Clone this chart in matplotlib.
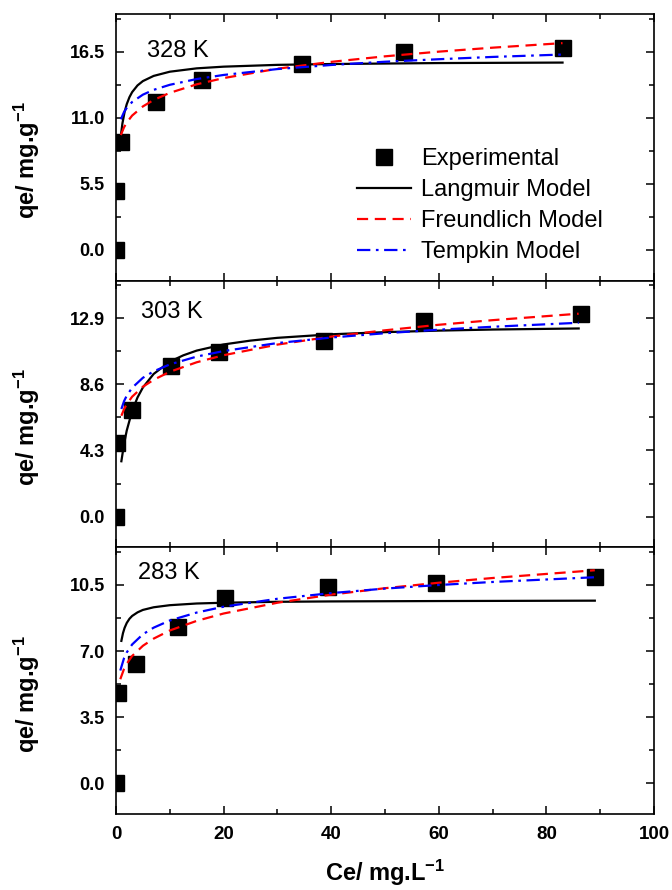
import matplotlib
matplotlib.use("Agg")
import matplotlib.pyplot as plt
from matplotlib.ticker import MultipleLocator, FormatStrFormatter

plt.rcParams['font.family'] = ['Liberation Sans', 'DejaVu Sans']
plt.rcParams['mathtext.fontset'] = 'custom'
plt.rcParams['mathtext.rm'] = 'Liberation Sans'
plt.rcParams['mathtext.bf'] = 'Liberation Sans:bold'
plt.rcParams['mathtext.default'] = 'bf'

temps = ["328 K", "303 K", "283 K"]

# experimental points (Ce, qe)
ce_328 = [0.0, 0.05, 0.9, 7.5, 15.9, 34.6, 53.5, 83.1]
qe_328 = [0.0, 4.9, 9.0, 12.35, 14.15, 15.5, 16.45, 16.8]
ce_303 = [0.0, 0.2, 3.0, 10.2, 19.2, 38.6, 57.2, 86.5]
qe_303 = [0.0, 4.8, 6.95, 9.8, 10.7, 11.4, 12.7, 13.2]
ce_283 = [0.0, 0.4, 3.7, 11.6, 20.2, 39.5, 59.4, 89.0]
qe_283 = [0.0, 4.8, 6.3, 8.3, 9.8, 10.4, 10.6, 10.9]

# model curves
lang_x_328 = [0.9, 1.2, 1.6, 2, 2.5, 3, 4, 5, 7, 10, 15, 20, 30, 40, 60, 83]
lang_y_328 = [9.49, 10.54, 11.48, 12.13, 12.71, 13.13, 13.69, 14.05, 14.48, 14.83,
              15.11, 15.25, 15.40, 15.47, 15.55, 15.59]
fit_x_328 = [0.9, 1.5, 2, 3, 5, 7, 10, 15, 20, 30, 40, 50, 60, 70, 83]
freu_y_328 = [9.56, 10.21, 10.60, 11.18, 11.94, 12.48, 13.07, 13.78, 14.30, 15.08,
              15.65, 16.11, 16.50, 16.83, 17.21]
temp_y_328 = [10.87, 11.48, 11.82, 12.31, 12.92, 13.32, 13.74, 14.22, 14.56, 15.05,
              15.39, 15.66, 15.87, 16.06, 16.26]

lang_x_303 = [1, 1.5, 2, 3, 4, 5, 7, 10, 12.5, 15, 20, 25, 30, 40, 50, 60, 70, 86]
lang_y_303 = [3.60, 4.73, 5.60, 6.87, 7.75, 8.40, 9.28, 10.08, 10.49, 10.80, 11.20,
              11.45, 11.63, 11.86, 12.00, 12.10, 12.17, 12.24]
fit_x_303 = [1, 1.5, 2, 3, 5, 7, 10, 15, 20, 30, 40, 50, 60, 70, 86]
freu_y_303 = [6.56, 6.99, 7.31, 7.80, 8.45, 8.90, 9.42, 10.04, 10.50, 11.19,
              11.71, 12.12, 12.48, 12.78, 13.20]
temp_y_303 = [7.00, 7.51, 7.87, 8.38, 9.03, 9.45, 9.90, 10.41, 10.77, 11.29,
              11.65, 11.93, 12.16, 12.35, 12.61]

lang_x_283 = [1, 1.3, 1.6, 2, 2.5, 3, 4, 5, 7, 10, 15, 20, 30, 40, 60, 89]
lang_y_283 = [7.54, 7.95, 8.23, 8.49, 8.71, 8.86, 9.05, 9.18, 9.32, 9.43,
              9.52, 9.56, 9.61, 9.63, 9.65, 9.67]
fit_x_283 = [0.8, 1.5, 2, 3, 5, 7, 10, 15, 20, 30, 40, 50, 60, 70, 89]
freu_y_283 = [5.51, 6.06, 6.33, 6.74, 7.28, 7.66, 8.09, 8.60, 8.99, 9.56,
              9.99, 10.33, 10.62, 10.87, 11.28]
temp_y_283 = [5.97, 6.63, 6.93, 7.35, 7.89, 8.24, 8.62, 9.04, 9.35, 9.77,
              10.07, 10.31, 10.50, 10.66, 10.91]

# axis ticks
yticks_328 = [0.0, 5.5, 11.0, 16.5]
yticks_303 = [0.0, 4.3, 8.6, 12.9]
yticks_283 = [0.0, 3.5, 7.0, 10.5]
xticks = [0, 20, 40, 60, 80, 100]

panels = [
    (temps[0], ce_328, qe_328, lang_x_328, lang_y_328, fit_x_328, freu_y_328, temp_y_328, yticks_328),
    (temps[1], ce_303, qe_303, lang_x_303, lang_y_303, fit_x_303, freu_y_303, temp_y_303, yticks_303),
    (temps[2], ce_283, qe_283, lang_x_283, lang_y_283, fit_x_283, freu_y_283, temp_y_283, yticks_283),
]
label_x = [0.058, 0.046, 0.040]
label_y = [0.861, 0.881, 0.905]

fig, axes = plt.subplots(3, 1, figsize=(6.72, 8.9), dpi=100, sharex=True)
fig.subplots_adjust(left=0.1726, right=0.9732, top=0.9843, bottom=0.0854, hspace=0)

for i, (ax, p) in enumerate(zip(axes, panels)):
    name, ce, qe, lx, ly, fx, fy, ty, yt = p
    ax.plot(ce, qe, 's', color='black', ms=11, label='Experimental', zorder=2)
    ax.plot(lx, ly, '-', color='black', lw=1.6, label='Langmuir Model', zorder=3)
    ax.plot(fx, fy, '--', color='red', lw=1.6, dashes=(5, 3), label='Freundlich Model', zorder=3)
    ax.plot(fx, ty, '-.', color='blue', lw=1.6, dashes=(6, 2.5, 1.2, 2.5), label='Tempkin Model', zorder=3)

    step = yt[1] - yt[0]
    ax.set_ylim(-0.155 * yt[-1], 1.19 * yt[-1])
    ax.set_yticks(yt)
    ax.yaxis.set_minor_locator(MultipleLocator(step / 2))
    ax.yaxis.set_major_formatter(FormatStrFormatter('%.1f'))
    ax.set_xlim(0, 100)
    ax.set_xticks(xticks)
    ax.xaxis.set_minor_locator(MultipleLocator(10))

    ax.tick_params(which='both', direction='in', top=True, right=True, width=1.1)
    ax.tick_params(which='major', length=6)
    ax.tick_params(which='minor', length=3.5)
    ax.tick_params(axis='y', pad=8, labelsize=13)
    ax.tick_params(axis='x', pad=9, labelsize=13.5)
    for lab in ax.get_xticklabels() + ax.get_yticklabels():
        lab.set_fontweight('bold')
    for s in ax.spines.values():
        s.set_linewidth(1.2)

    ax.set_ylabel(r'qe/ mg.g$^{-1}$', fontsize=17, fontweight='bold')
    ax.yaxis.set_label_coords(-0.138, 0.45)
    ax.text(label_x[i], label_y[i], name, transform=ax.transAxes,
            fontsize=17, va='center', ha='left')

axes[-1].set_xlabel(r'Ce/ mg.L$^{-1}$', fontsize=17, fontweight='bold', labelpad=10)

axes[0].legend(loc='upper left', bbox_to_anchor=(0.448, 0.497), frameon=False,
               fontsize=17, numpoints=1, handlelength=2.3, handletextpad=0.4,
               labelspacing=0.38, borderpad=0, borderaxespad=0)

plt.savefig('out.png', dpi=100)
